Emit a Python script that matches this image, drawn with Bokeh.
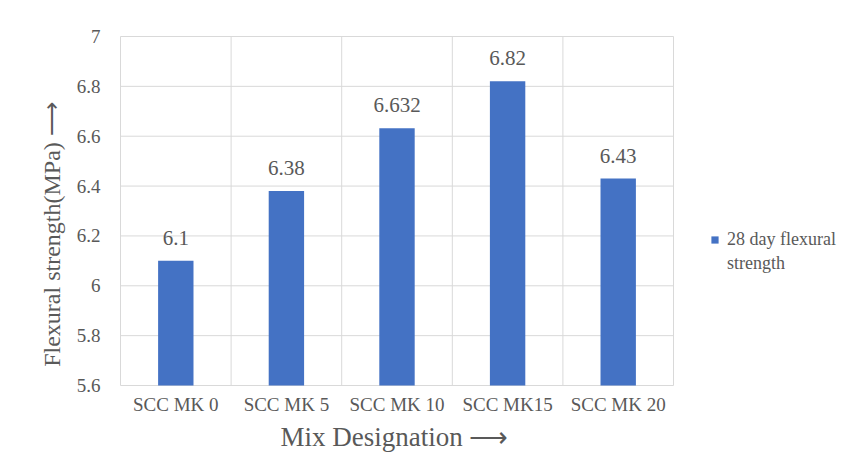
from bokeh.plotting import figure
from bokeh.models import (ColumnDataSource, Range1d, FixedTicker, LabelSet, Label, Title,
                          Legend, LegendItem)
from bokeh.core.properties import value
from bokeh.embed import file_html
from bokeh.resources import INLINE

# Flexural strength at 28 days for each metakaolin replacement level
mixes = ["SCC MK 0", "SCC MK 5", "SCC MK 10", "SCC MK15", "SCC MK 20"]
strength = [6.1, 6.38, 6.632, 6.82, 6.43]
strength_labels = ["6.1", "6.38", "6.632", "6.82", "6.43"]
y_ticks = [5.6, 5.8, 6.0, 6.2, 6.4, 6.6, 6.8, 7.0]
y_tick_labels = ["5.6", "5.8", "6", "6.2", "6.4", "6.6", "6.8", "7"]
legend_lines = ["28 day flexural", "strength"]

FONT = "Liberation Serif"
TEXT = "#595959"
GRID = "#d9d9d9"
BAR = "#4472C4"

W, H = 864, 476
PLOT_LEFT, PLOT_RIGHT, TOP, BOTTOM = 120, 673, 36, 91
n = len(mixes)
# the frame spans the whole width so the titles and legend can sit beside
# the category area, which itself runs from 0 to n in data units
unit = n / (PLOT_RIGHT - PLOT_LEFT)
x_start, x_end = -PLOT_LEFT * unit, (W - PLOT_LEFT) * unit
# a little vertical room so the end tick labels are not clipped
PAD_PX = 10
y_pad = PAD_PX * (y_ticks[-1] - y_ticks[0]) / (H - TOP - BOTTOM)

centers = [i + 0.5 for i in range(n)]
source = ColumnDataSource(dict(x=centers, y=strength, label=strength_labels))

p = figure(width=W, height=H, output_backend="svg", toolbar_location=None,
           x_range=Range1d(x_start, x_end),
           y_range=Range1d(y_ticks[0] - y_pad, y_ticks[-1] + y_pad),
           min_border_left=0, min_border_right=0, min_border_top=TOP - PAD_PX,
           min_border_bottom=BOTTOM - PAD_PX)
p.background_fill_color = "white"
p.border_fill_color = "white"
p.outline_line_color = None
p.xgrid.grid_line_color = None
p.ygrid.grid_line_color = None
p.yaxis.visible = False

# gridlines of the category area
p.segment(x0=[0] * len(y_ticks), x1=[n] * len(y_ticks), y0=y_ticks, y1=y_ticks,
          line_color=GRID, line_width=1)
bounds = list(range(n + 1))
p.segment(x0=bounds, x1=bounds, y0=[y_ticks[0]] * len(bounds),
          y1=[y_ticks[-1]] * len(bounds), line_color=GRID, line_width=1)

# value-axis tick labels, right-aligned against the category area
p.text(x=[0] * len(y_ticks), y=y_ticks, text=y_tick_labels, x_offset=-20,
       text_align="right", text_baseline="middle", text_font=value(FONT),
       text_font_size=value("19px"), text_color=TEXT)

bars = p.vbar(x="x", top="y", bottom=y_ticks[0], width=0.32, source=source,
              fill_color=BAR, line_color=None)

# value labels above each bar
p.add_layout(LabelSet(x="x", y="y", text="label", source=source,
                      text_align="center", text_baseline="alphabetic", y_offset=16,
                      text_font=FONT, text_font_size="21px", text_color=TEXT))

# category axis
p.xaxis.ticker = FixedTicker(ticks=centers)
p.xaxis.major_label_overrides = {c: m for c, m in zip(centers, mixes)}
p.xaxis.axis_line_color = None
p.xaxis.major_tick_line_color = None
p.xaxis.minor_tick_line_color = None
p.xaxis.major_label_text_font = FONT
p.xaxis.major_label_text_color = TEXT
p.xaxis.major_label_text_font_size = "19px"
p.xaxis.major_label_standoff = 2 - PAD_PX

# x-axis title under the category area
p.add_layout(Title(text="Mix Designation \u27f6", align="left", offset=280, standoff=5,
                   text_font=FONT, text_font_size="27px", text_font_style="normal",
                   text_color=TEXT), "below")

# rotated y-axis title
p.add_layout(Label(x=51, y=161, x_units="screen", y_units="screen",
                   text="Flexural strength(MPa) \u27f6", angle=90, angle_units="deg",
                   text_align="center", text_baseline="middle",
                   text_font=FONT, text_font_size="24px", text_color=TEXT))

legend = Legend(items=[LegendItem(label=legend_lines[0], renderers=[bars]),
                       LegendItem(label=legend_lines[1], renderers=[])],
                location=(710, 121), orientation="vertical",
                glyph_width=9, glyph_height=9, label_standoff=8, spacing=3,
                label_text_font=FONT, label_text_font_size="18px",
                label_text_color=TEXT, border_line_color=None,
                background_fill_alpha=0, padding=0, margin=0)
p.add_layout(legend)

open("out.html", "w").write(file_html(p, INLINE))
